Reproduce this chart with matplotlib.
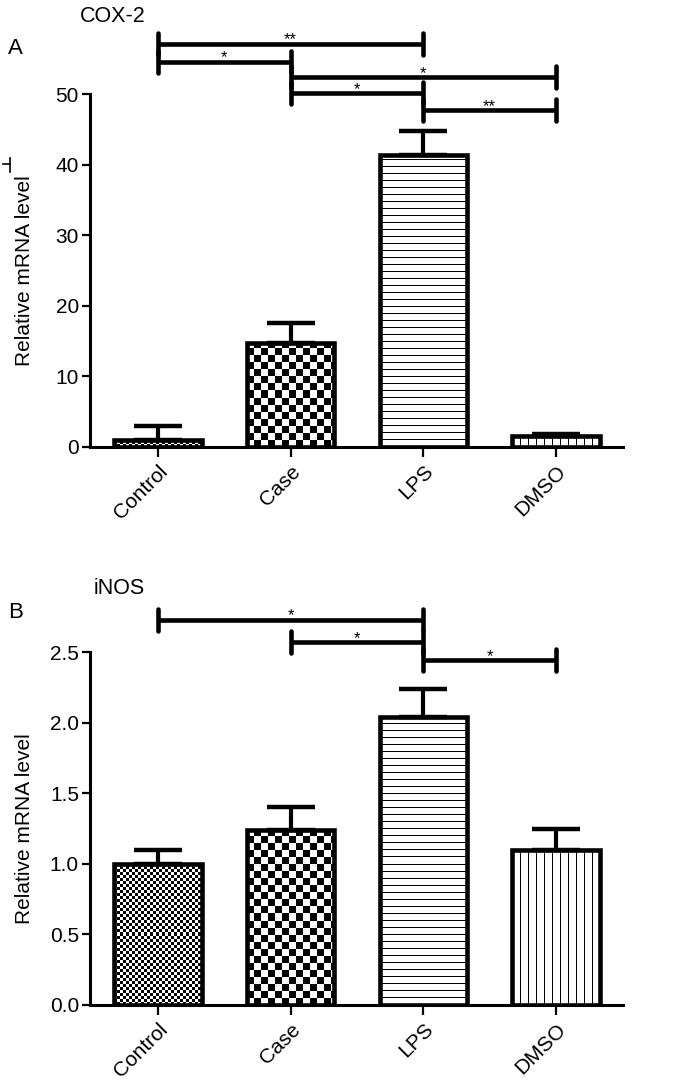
import numpy as np
import matplotlib
matplotlib.use("Agg")
from matplotlib import pyplot as plt
from matplotlib.lines import Line2D

plt.rcParams['font.family'] = ['Liberation Sans', 'DejaVu Sans']

groups = ["Control", "Case", "LPS", "DMSO"]

cox2_mean = [1.0, 14.8, 41.3, 1.6]
cox2_err = [2.0, 2.7, 3.4, 0.3]
cox2_sig = [(0, 2, "**", 57.1), (0, 1, "*", 54.6), (1, 3, "*", 52.4),
            (1, 2, "*", 50.1), (2, 3, "**", 47.7)]

inos_mean = [1.0, 1.24, 2.04, 1.10]
inos_err = [0.10, 0.16, 0.20, 0.15]
inos_sig = [(0, 2, "*", 2.73), (1, 2, "*", 2.57), (2, 3, "*", 2.44)]

# fill style per group: (kind, cell size in px)
fills = [("check", 3), ("check", 7), ("hline", 7), ("vline", 8)]

W, H = 686, 1088


def fill_pattern(ax, bar, kind, size):
    bb = bar.get_window_extent()
    w = max(int(round(bb.width)), 1)
    h = max(int(round(bb.height)), 1)
    yy, xx = np.mgrid[0:h, 0:w]
    if kind == "check":
        arr = (xx // size + yy // size) % 2
    elif kind == "hline":
        arr = (yy % size == 0).astype(int)
    else:
        arr = (xx % size == 0).astype(int)
    x0, y0 = bar.get_x(), bar.get_y()
    im = ax.imshow(1 - arr, cmap="gray", vmin=0, vmax=1, origin="lower",
                   extent=[x0, x0 + bar.get_width(), y0, y0 + bar.get_height()],
                   interpolation="nearest", aspect="auto", zorder=2)
    im.set_clip_path(bar)


def panel(ax, means, errs, sig, ymax, step, cap_h, fmt):
    x = np.arange(len(groups))
    ax.set_xlim(-0.512, 3.505)
    ax.set_ylim(0, ymax)
    ax.set_autoscale_on(False)
    bars = ax.bar(x, means, width=0.66, facecolor="none", edgecolor="k",
                  linewidth=3.3, zorder=3)
    for b, (kind, size) in zip(bars, fills):
        fill_pattern(ax, b, kind, size)
    ax.errorbar(x, means, yerr=[np.zeros(len(errs)), errs], fmt="none",
                ecolor="k", elinewidth=3.0, capsize=17, capthick=3.2, zorder=4)
    for i, j, lab, y in sig:
        kw = dict(color="k", lw=3.3, clip_on=False, zorder=5)
        ax.plot([i, j], [y, y], solid_capstyle="butt", **kw)
        ax.plot([i, i], [y - cap_h, y + cap_h], solid_capstyle="round", **kw)
        ax.plot([j, j], [y - cap_h, y + cap_h], solid_capstyle="round", **kw)
        ax.text((i + j) / 2, y - cap_h * 0.06, lab, ha="center", va="baseline",
                fontsize=12, clip_on=False)
    ax.set_yticks(np.arange(0, ymax + step / 2, step))
    ax.yaxis.set_major_formatter(fmt)
    ax.set_xticks(x)
    ax.set_xticklabels(groups, rotation=45, ha="right", rotation_mode="anchor")
    for s in ["top", "right"]:
        ax.spines[s].set_visible(False)
    for s in ["left", "bottom"]:
        ax.spines[s].set_linewidth(2.2)
    ax.tick_params(axis="y", length=6, width=1.6, labelsize=15, pad=2)
    ax.tick_params(axis="x", length=7.5, width=1.6, labelsize=15, pad=3)
    ax.set_ylabel("Relative mRNA level", fontsize=15)
    ax.yaxis.set_label_coords(-0.105, 0.5)


fig = plt.figure(figsize=(W / 100, H / 100), dpi=100)
ax1 = fig.add_axes([90 / W, (H - 447) / H, 533 / W, 353 / H])
ax2 = fig.add_axes([90 / W, (H - 1005) / H, 533 / W, 353 / H])

panel(ax1, cox2_mean, cox2_err, cox2_sig, 50, 10, 1.56, "{x:.0f}")
panel(ax2, inos_mean, inos_err, inos_sig, 2.5, 0.5, 0.078, "{x:.1f}")

fig.text(8 / W, 1 - 49 / H, "A", fontsize=16, va="center")
fig.text(80 / W, 1 - 17 / H, "COX-2", fontsize=15.5, va="center")
fig.text(8 / W, 1 - 613 / H, "B", fontsize=16, va="center")
fig.text(94 / W, 1 - 589 / H, "iNOS", fontsize=15.5, va="center")

# small stray mark next to the top axis label
fig.add_artist(Line2D([3 / W, 10 / W], [1 - 164 / H, 1 - 164 / H], color="k", lw=1.2))
fig.add_artist(Line2D([10 / W, 10 / W], [1 - 158 / H, 1 - 172 / H], color="k", lw=1.2))

fig.savefig("out.png", dpi=100)
